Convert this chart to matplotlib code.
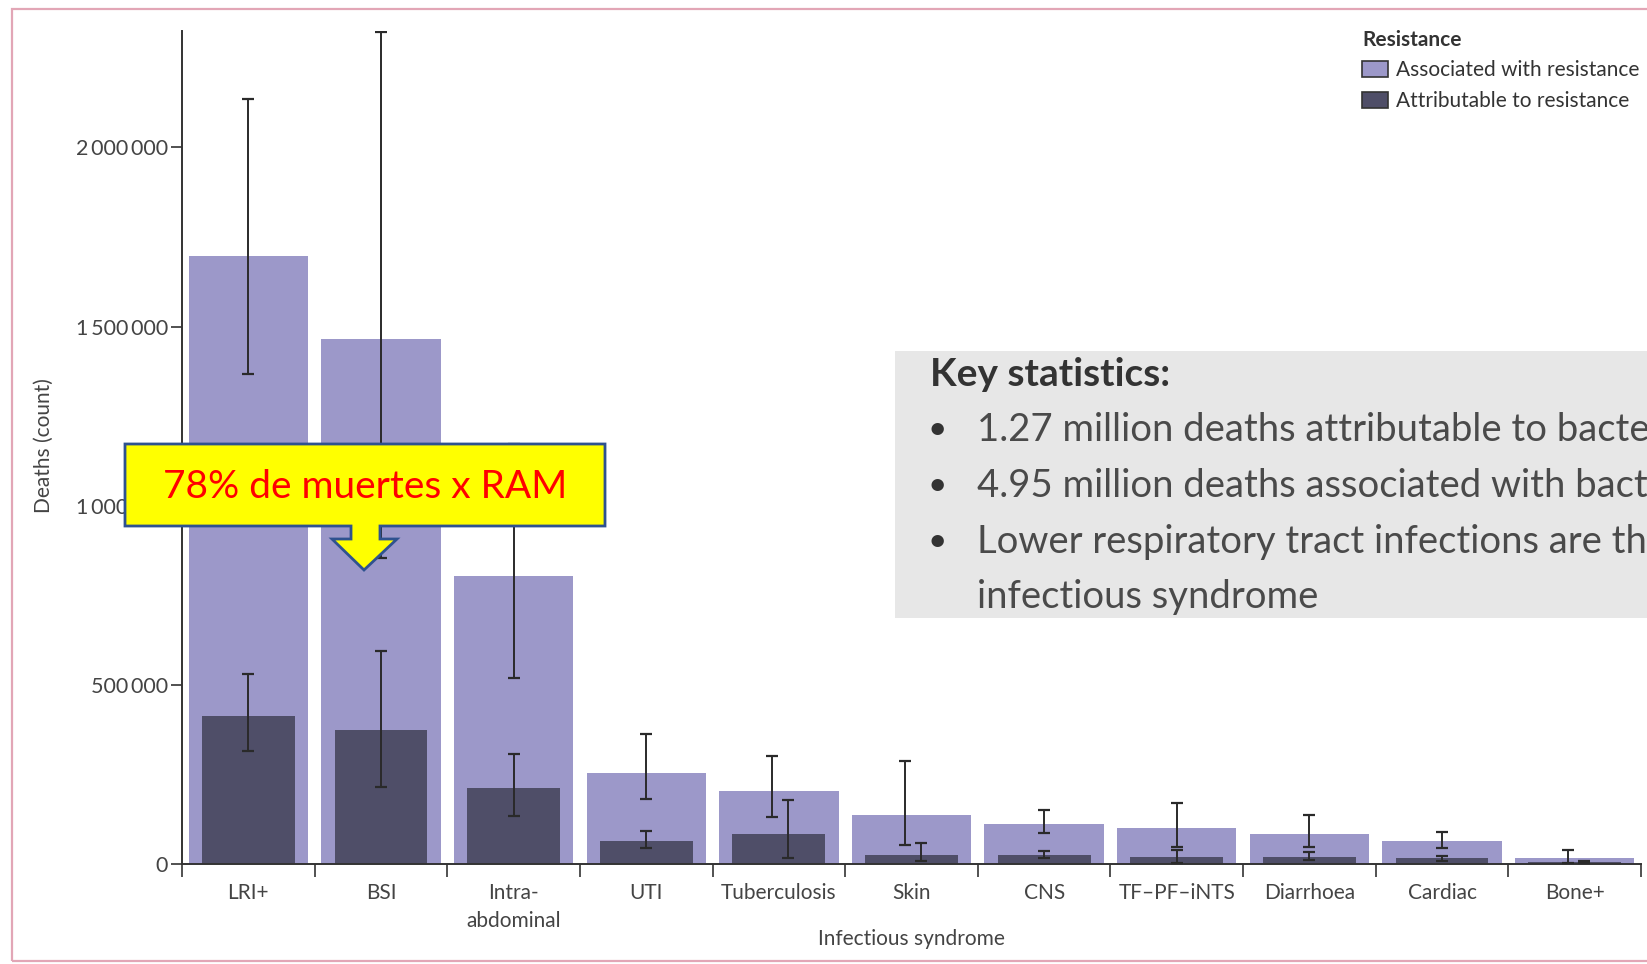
import numpy as np
import matplotlib.pyplot as plt
from matplotlib.patches import Rectangle, Polygon, Patch

# deaths by infectious syndrome, 2019
categories = ["LRI+", "BSI", "Intra-\nabdominal", "UTI", "Tuberculosis", "Skin",
              "CNS", "TF\u2013PF\u2013iNTS", "Diarrhoea", "Cardiac", "Bone+"]
associated = [1696000, 1465000, 804000, 255000, 203000, 138000, 112000, 100000, 84000, 64000, 17000]
assoc_lo = [1368000, 854000, 518000, 181000, 132000, 52000, 87000, 48000, 48000, 45000, 3000]
assoc_hi = [2134000, 2322000, 1172000, 362000, 301000, 287000, 151000, 170000, 136000, 89000, 38000]
attributable = [412000, 374000, 211000, 64000, 84000, 26000, 26000, 19000, 19000, 16000, 5000]
attr_lo = [316000, 216000, 134000, 45000, 16000, 8000, 17000, 4000, 10000, 8000, 2000]
attr_hi = [529000, 594000, 307000, 92000, 180000, 59000, 36000, 39000, 34000, 21000, 8000]
yticks = [0, 500000, 1000000, 1500000, 2000000]
ytick_labels = ["0", "500\u2009000", "1\u2009000\u2009000", "1\u2009500\u2009000", "2\u2009000\u2009000"]

stats = ["1.27 million deaths attributable to bacterial AMR",
         "4.95 million deaths associated with bacterial AMR",
         "Lower respiratory tract infections are the leading",
         "infectious syndrome"]

light = "#9c98c9"
dark = "#4f4e68"
ink = "#2a2a2a"
W, H = 1647, 964

plt.rcParams['font.family'] = ['Lato', 'DejaVu Sans']

fig = plt.figure(figsize=(W / 100, H / 100), dpi=100)

def fx(x):
    return x / W

def fy(y):
    return 1 - y / H

ax = fig.add_axes([fx(182), fy(864), fx(1641) - fx(182), fy(31) - fy(864)])

x = np.arange(len(categories))
assoc_dx = np.array([0, 0, 0, 0, -0.05, -0.05, 0, 0, 0, 0, -0.05])
attr_dx = np.array([0, 0, 0, 0, 0.07, 0.07, 0, 0, 0, 0, 0.07])

ax.bar(x, associated, width=0.9, color=light, zorder=1)
ax.bar(x, attributable, width=0.7, color=dark, zorder=2)

a = np.array(associated)
b = np.array(attributable)
ax.errorbar(x + assoc_dx, a, yerr=[a - np.array(assoc_lo), np.array(assoc_hi) - a],
            fmt="none", ecolor=ink, elinewidth=1.4, capsize=4.5, capthick=1.6, zorder=3)
ax.errorbar(x + attr_dx, b, yerr=[b - np.array(attr_lo), np.array(attr_hi) - b],
            fmt="none", ecolor=ink, elinewidth=1.4, capsize=4.5, capthick=1.6, zorder=3)

ax.set_xlim(-0.5, len(categories) - 0.5)
ax.set_ylim(0, 2325000)
for s in ["top", "right"]:
    ax.spines[s].set_visible(False)
for s in ["left", "bottom"]:
    ax.spines[s].set_color("#333333")
    ax.spines[s].set_linewidth(1.4)

ax.set_yticks(yticks)
ax.set_yticklabels(ytick_labels, fontsize=15.5, color="#444444")
ax.tick_params(axis="y", length=8, width=1.2, color="#333333", pad=2)
ax.set_xticks(x)
ax.set_xticklabels(categories, fontsize=15, color="#444444", linespacing=1.45)
ax.set_xticks(np.arange(-0.5, len(categories)), minor=True)
ax.tick_params(axis="x", which="major", length=0, pad=14)
ax.tick_params(axis="x", which="minor", length=9, width=1.2, color="#333333")

fig.text(fx(44), fy(446), "Deaths (count)", rotation=90, ha="center", va="center",
         fontsize=15, color="#444444")
fig.text(fx(911), fy(939), "Infectious syndrome", ha="center", va="center",
         fontsize=15, color="#444444")

# legend
handles = [Patch(facecolor=light, edgecolor="#333333", linewidth=1.2),
           Patch(facecolor=dark, edgecolor="#333333", linewidth=1.2)]
leg = fig.legend(handles, ["Associated with resistance", "Attributable to resistance"],
                 title="Resistance", loc="upper left", bbox_to_anchor=(fx(1362), fy(30)),
                 frameon=False, fontsize=15, title_fontsize=15, alignment="left",
                 handlelength=1.25, handleheight=0.8, handletextpad=0.4, labelspacing=0.5,
                 borderaxespad=0, borderpad=0.0)
leg.get_title().set_fontweight("bold")
leg.get_title().set_color("#333333")
for t in leg.get_texts():
    t.set_color("#333333")

# key statistics panel
fig.patches.append(Rectangle((fx(895), fy(618)), 1 - fx(895), fy(351) - fy(618),
                             transform=fig.transFigure, facecolor="#e7e7e7",
                             edgecolor="none", zorder=5))
fig.text(fx(930), fy(375), "Key statistics:", fontsize=28, fontweight="bold",
         color="#333333", va="center", zorder=6)
line_y = [430, 486, 542, 597]
for i, (ly, line) in enumerate(zip(line_y, stats)):
    if i < 3:
        fig.text(fx(937), fy(ly), "\u2022", fontsize=24, ha="center",
                 color="#333333", va="center", zorder=6)
    fig.text(fx(977), fy(ly), line, fontsize=27.5,
             color="#4a4a4a", va="center", zorder=6)

# callout with arrow
pts = [(125, 444), (605, 444), (605, 526), (380, 526), (380, 539), (397, 539),
       (364, 570), (332, 539), (351, 539), (351, 526), (125, 526)]
fig.patches.append(Polygon([(fx(px), fy(py)) for px, py in pts], closed=True,
                           transform=fig.transFigure, facecolor="#ffff00",
                           edgecolor="#2f528f", linewidth=2, zorder=7))
fig.text(fx(365), fy(487), "78% de muertes x RAM", ha="center", va="center",
         fontsize=28, color="#ff0000", zorder=8)

# slide frame
fig.patches.append(Rectangle((fx(12), fy(961)), 1.1, fy(9) - fy(961),
                             transform=fig.transFigure, facecolor="none",
                             edgecolor="#e2a6b6", linewidth=1.6, zorder=9))

fig.savefig("out.png", dpi=100)
